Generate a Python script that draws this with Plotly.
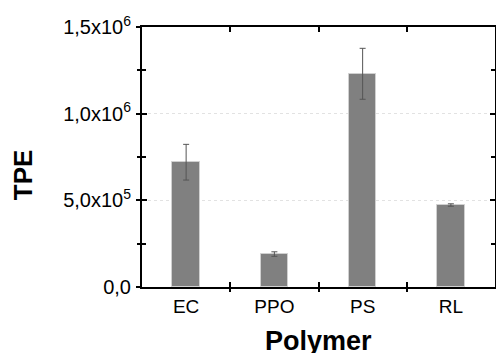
import plotly.graph_objects as go

# Mean TPE per polymer with standard deviation
polymers = ["EC", "PPO", "PS", "RL"]
tpe_mean = [720000, 190000, 1230000, 473000]
tpe_err = [103000, 13000, 147000, 7000]

y_tickvals = [0, 500000, 1000000, 1500000]
y_ticktext = ["0,0", "5,0x10<sup>5</sup>", "1,0x10<sup>6</sup>", "1,5x10<sup>6</sup>"]
y_minor = [250000, 750000, 1250000]
x_pos = list(range(len(polymers)))
boundaries = [0.5, 1.5, 2.5]

FONT = "Liberation Sans, Arial, sans-serif"

fig = go.Figure()

fig.add_trace(go.Bar(
    x=x_pos, y=tpe_mean, width=0.31,
    marker=dict(color="#808080", line=dict(color="#d0d0d0", width=1)),
    error_y=dict(type="data", array=tpe_err, color="#555555", thickness=1, width=3),
    xaxis="x", yaxis="y", showlegend=False,
))
# invisible traces so the overlay axes are drawn
for xa, ya in [("x2", "y2"), ("x3", "y2")]:
    fig.add_trace(go.Scatter(x=[0], y=[0], mode="markers", marker=dict(opacity=0),
                             xaxis=xa, yaxis=ya, showlegend=False, hoverinfo="skip"))

xrange = [-0.5, 3.5]
yrange = [0, 1500000]

fig.update_layout(
    width=496, height=353,
    margin=dict(l=142, r=1, t=27, b=66),
    plot_bgcolor="white", paper_bgcolor="white",
    font=dict(family=FONT, color="black"),
    bargap=0,
    xaxis=dict(
        range=xrange, tickmode="array", tickvals=x_pos, ticktext=polymers,
        ticks="", showgrid=False, zeroline=False, automargin=False,
        showline=True, linecolor="black", linewidth=2, mirror=True,
        tickfont=dict(size=19, family=FONT), ticklabelstandoff=1,
    ),
    xaxis2=dict(
        overlaying="x", range=xrange, tickmode="array", tickvals=boundaries,
        showticklabels=False, ticks="inside", ticklen=5, tickwidth=1.5, tickcolor="black",
        mirror="ticks", showline=False, showgrid=False, zeroline=False, automargin=False,
    ),
    xaxis3=dict(
        overlaying="x", range=xrange, tickmode="array", tickvals=boundaries,
        showticklabels=False, ticks="outside", ticklen=4, tickwidth=1.5, tickcolor="black",
        showline=False, showgrid=False, zeroline=False, automargin=False,
    ),
    yaxis=dict(
        range=yrange, tickmode="array", tickvals=y_tickvals, ticktext=y_ticktext,
        ticks="outside", ticklen=4, tickwidth=1.5, tickcolor="black",
        minor=dict(tickvals=y_minor, ticks="outside", ticklen=3,
                   tickwidth=1.5, tickcolor="black", showgrid=False),
        showline=True, linecolor="black", linewidth=2, mirror=True, automargin=False,
        showgrid=True, gridcolor="#e2e2e2", griddash="dot", gridwidth=1,
        zeroline=False, tickfont=dict(size=20, family=FONT), ticklabelstandoff=1,
    ),
    yaxis2=dict(
        overlaying="y", range=yrange, tickmode="array", tickvals=y_tickvals,
        showticklabels=False, ticks="inside", ticklen=5, tickwidth=1.5, tickcolor="black",
        minor=dict(tickvals=y_minor, ticks="inside", ticklen=4,
                   tickwidth=1.5, tickcolor="black", showgrid=False),
        mirror="ticks", showline=False, showgrid=False, zeroline=False, automargin=False,
    ),
    annotations=[
        dict(text="<b>TPE</b>", xref="paper", yref="paper", x=-0.337, y=0.43,
             textangle=-90, showarrow=False, font=dict(size=26, family=FONT),
             xanchor="center", yanchor="middle"),
        dict(text="<b>Polymer</b>", xref="paper", yref="paper", x=0.5, y=-0.142,
             showarrow=False, font=dict(size=27, family=FONT),
             xanchor="center", yanchor="top"),
    ],
)

fig.write_html("out.html")
